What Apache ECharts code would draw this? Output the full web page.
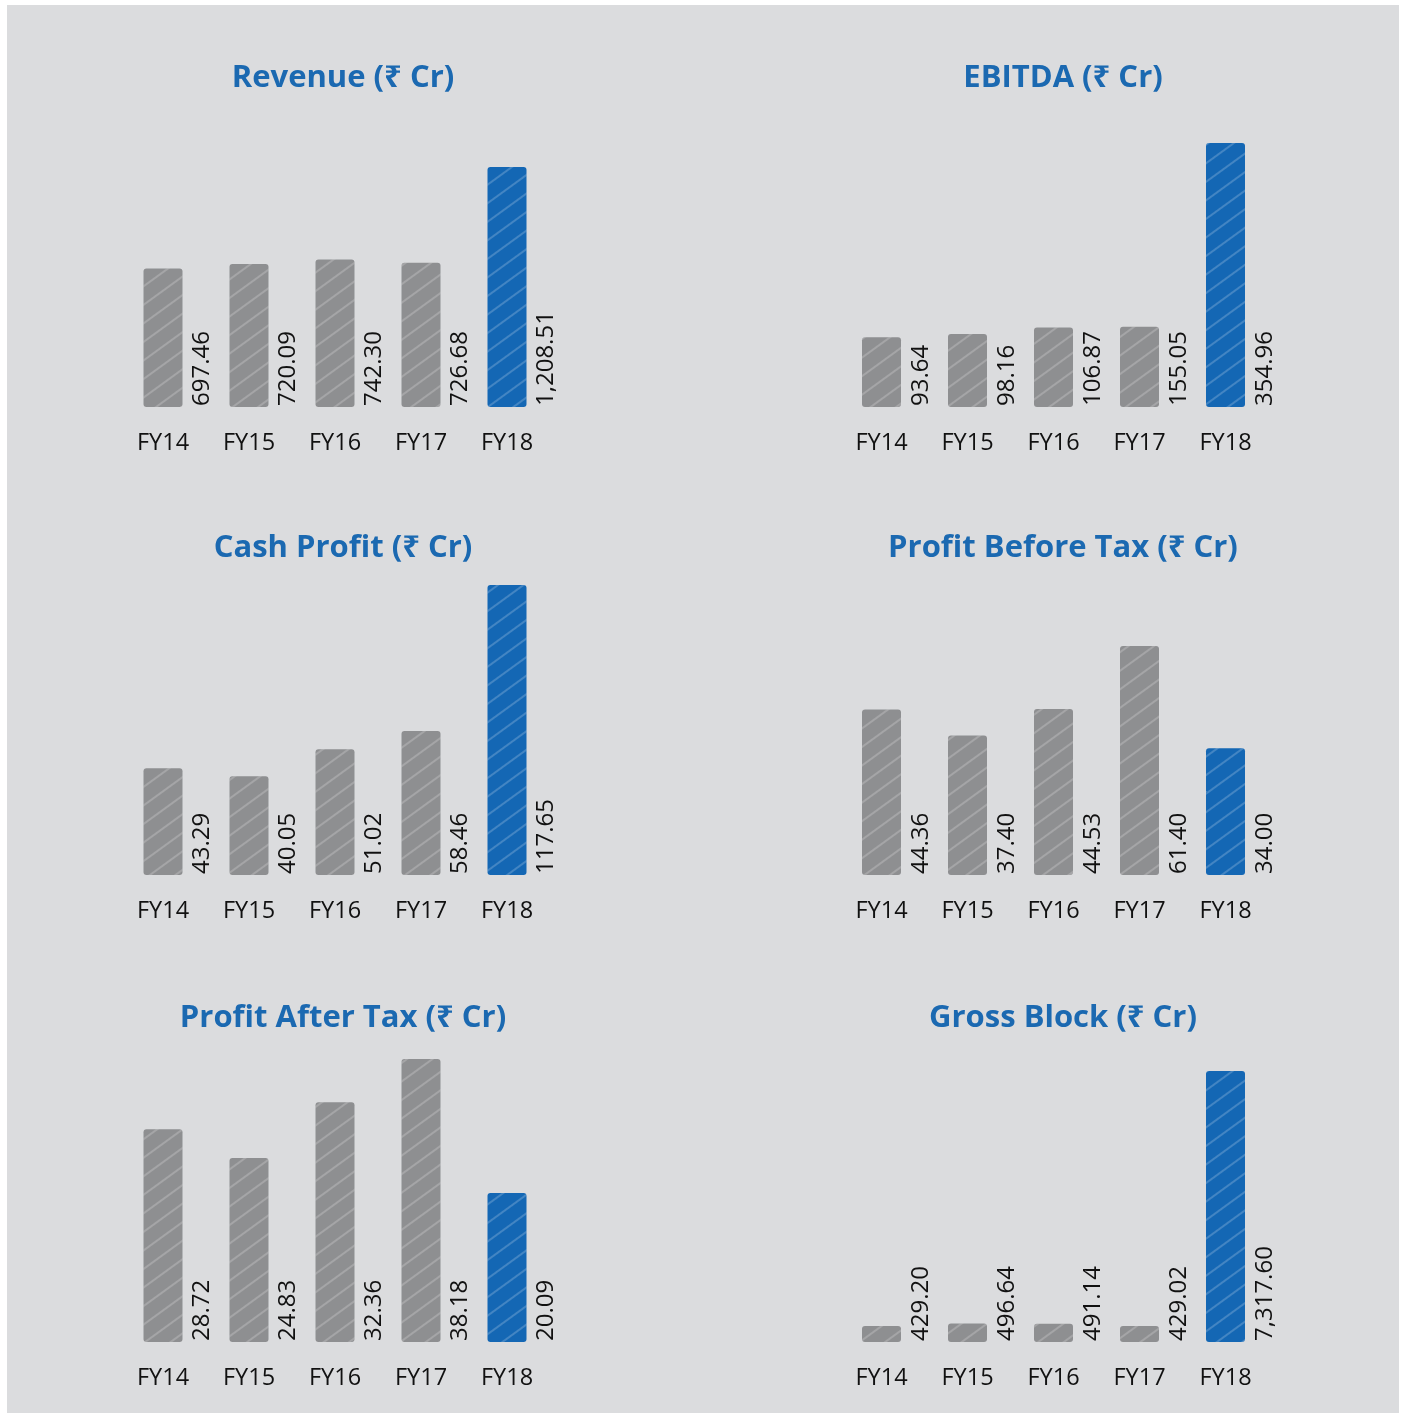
<!DOCTYPE html>
<html>
<head>
<meta charset="utf-8">
<title>Financial highlights</title>
<script src="https://cdn.jsdelivr.net/npm/echarts@6/dist/echarts.min.js"></script>
<style>
html, body { margin: 0; padding: 0; background: #ffffff; }
#main { width: 1403px; height: 1413px; }
</style>
</head>
<body>
<div id="main"></div>
<script>
var years = ['FY14', 'FY15', 'FY16', 'FY17', 'FY18'];

var revenue = [697.46, 720.09, 742.30, 726.68, 1208.51];
var ebitda = [93.64, 98.16, 106.87, 155.05, 354.96];
// the FY17 EBITDA bar is drawn about as tall as FY16 in the source, not to its label
var ebitdaBars = [93.64, 98.16, 106.87, 108.00, 354.96];
var cashProfit = [43.29, 40.05, 51.02, 58.46, 117.65];
var profitBeforeTax = [44.36, 37.40, 44.53, 61.40, 34.00];
var profitAfterTax = [28.72, 24.83, 32.36, 38.18, 20.09];
var grossBlock = [429.20, 496.64, 491.14, 429.02, 7317.60];

var titles = ['Revenue (₹ Cr)', 'EBITDA (₹ Cr)', 'Cash Profit (₹ Cr)',
    'Profit Before Tax (₹ Cr)', 'Profit After Tax (₹ Cr)', 'Gross Block (₹ Cr)'];

var GRAY = '#8e8f91';
var BLUE = '#1467b4';
var TITLE_BLUE = '#1b69b1';

// one entry per small chart: bars, labels, axis top so all bars keep the source scale
var panels = [
    {bars: revenue, labels: revenue, max: 1344},
    {bars: ebitdaBars, labels: ebitda, max: 359},
    {bars: cashProfit, labels: cashProfit, max: 119.7},
    {bars: profitBeforeTax, labels: profitBeforeTax, max: 79.1},
    {bars: profitAfterTax, labels: profitAfterTax, max: 39.4},
    {bars: grossBlock, labels: grossBlock, max: 7885}
];
var colLeft = [120, 838.5];
var titleX = [343, 1063];
var rowTop = [140, 580, 1050];
var rowBottom = [407, 875, 1342];
var titleY = [63, 533, 1003];

function fmt(v) {
    return v.toLocaleString('en-US', {minimumFractionDigits: 2, maximumFractionDigits: 2});
}

var option = {
    backgroundColor: '#ffffff',
    animation: false,
    graphic: [{
        type: 'rect',
        shape: {x: 7, y: 5, width: 1392, height: 1410},
        style: {fill: '#dbdcde'},
        z: -10
    }],
    title: [],
    grid: [],
    xAxis: [],
    yAxis: [],
    series: []
};

for (var i = 0; i < panels.length; i++) {
    var col = i % 2;
    var row = Math.floor(i / 2);
    var p = panels[i];

    option.title.push({
        text: titles[i],
        left: titleX[col],
        top: titleY[row],
        padding: 0,
        textAlign: 'center',
        textStyle: {
            color: TITLE_BLUE,
            fontFamily: '"Open Sans", "Noto Sans", "DejaVu Sans", sans-serif',
            fontWeight: 'bold',
            fontSize: 31
        }
    });
    option.grid.push({
        left: colLeft[col],
        width: 430,
        top: rowTop[row],
        height: rowBottom[row] - rowTop[row]
    });
    option.xAxis.push({
        type: 'category',
        gridIndex: i,
        data: years,
        axisLine: {show: false},
        axisTick: {show: false},
        axisLabel: {
            margin: 24,
            color: '#111111',
            fontSize: 23.5,
            fontFamily: '"Open Sans", "Noto Sans", sans-serif'
        }
    });
    option.yAxis.push({
        type: 'value',
        gridIndex: i,
        min: 0,
        max: p.max,
        show: false,
        splitLine: {show: false}
    });

    (function (labels) {
        option.series.push({
            type: 'bar',
            xAxisIndex: i,
            yAxisIndex: i,
            barWidth: 39,
            data: p.bars.map(function (v, k) {
                return {
                    value: v,
                    itemStyle: {color: k === years.length - 1 ? BLUE : GRAY}
                };
            }),
            itemStyle: {
                borderRadius: 3,
                decal: {
                    symbol: 'rect',
                    symbolSize: 1,
                    dashArrayX: [[1, 0]],
                    dashArrayY: [1.5, 13],
                    rotation: -Math.PI / 5,
                    color: 'rgba(255,255,255,0.2)'
                }
            },
            label: {
                show: true,
                position: ['100%', '100%'],
                // offset is taken in the rotated frame: y pushes the text right
                offset: [1, 8],
                rotate: 90,
                align: 'left',
                verticalAlign: 'top',
                color: '#111111',
                fontSize: 24,
                fontFamily: '"Open Sans", "Noto Sans", sans-serif',
                formatter: function (params) {
                    return fmt(labels[params.dataIndex]);
                }
            }
        });
    })(p.labels);
}

var chart = echarts.init(document.getElementById('main'), null, {renderer: 'canvas'});
chart.setOption(option);
</script>
</body>
</html>
